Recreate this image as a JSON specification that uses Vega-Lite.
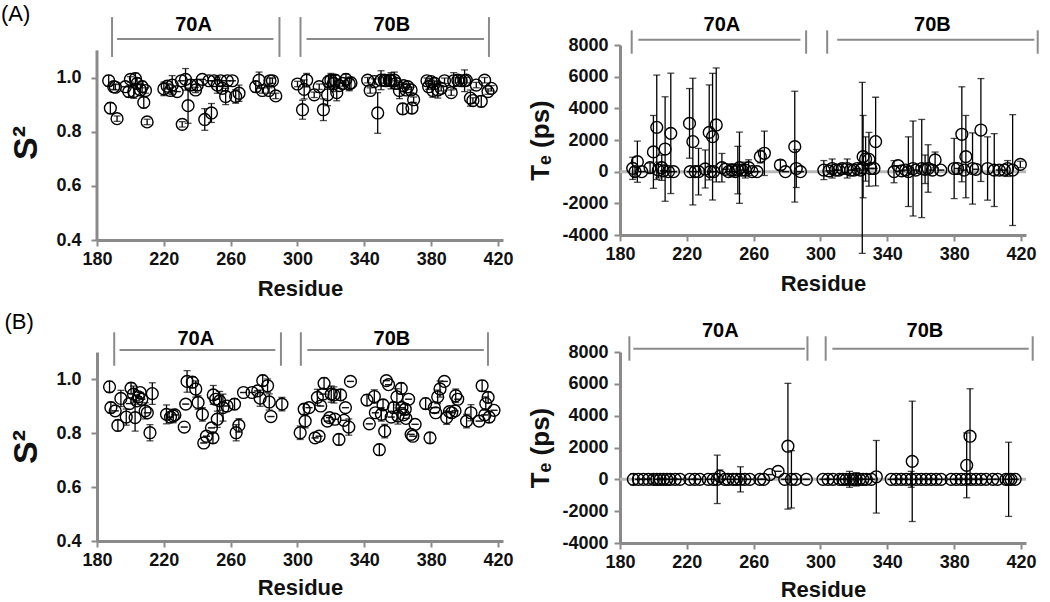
{
  "$schema": "https://vega.github.io/schema/vega-lite/v6.json",
  "padding": {"left": 0, "top": 3, "right": 0, "bottom": 0},
  "background": "white",
  "datasets": {
    "a1": [
      {"r":187,"v":0.988,"e":0.02},{"r":190,"v":0.966,"e":0.01},{"r":191,"v":0.964,"e":0.01},{"r":188,"v":0.887,"e":0.02},{"r":192,"v":0.848,"e":0.01},
      {"r":197,"v":0.966,"e":0},{"r":199,"v":0.948,"e":0.02},{"r":200,"v":0.993,"e":0.01},{"r":202,"v":0.948,"e":0.025},{"r":203,"v":0.996,"e":0.02},
      {"r":204,"v":0.978,"e":0.02},{"r":206,"v":0.954,"e":0.02},{"r":207,"v":0.966,"e":0.02},{"r":208,"v":0.908,"e":0.02},{"r":209,"v":0.952,"e":0.01},
      {"r":210,"v":0.836,"e":0.01},{"r":220,"v":0.958,"e":0.025},{"r":222,"v":0.968,"e":0.01},{"r":224,"v":0.952,"e":0.01},{"r":225,"v":0.972,"e":0.035},
      {"r":228,"v":0.948,"e":0},{"r":231,"v":0.827,"e":0.01},{"r":230.5,"v":0.988,"e":0},{"r":233,"v":0.993,"e":0.04},{"r":234.5,"v":0.896,"e":0.065},
      {"r":236,"v":0.972,"e":0.02},{"r":239,"v":0.954,"e":0.01},{"r":240,"v":0.972,"e":0.02},{"r":243,"v":0.993,"e":0},{"r":244.5,"v":0.845,"e":0.04},
      {"r":248.5,"v":0.869,"e":0.035},{"r":247,"v":0.988,"e":0},{"r":250,"v":0.988,"e":0},{"r":252,"v":0.972,"e":0.03},{"r":254,"v":0.988,"e":0},
      {"r":255,"v":0.96,"e":0.01},{"r":257,"v":0.93,"e":0.03},{"r":258,"v":0.988,"e":0},{"r":261,"v":0.988,"e":0},{"r":263,"v":0.93,"e":0.025},
      {"r":265,"v":0.942,"e":0.03},{"r":275,"v":0.966,"e":0.02},{"r":277,"v":0.99,"e":0.03},{"r":279,"v":0.952,"e":0.01},{"r":283,"v":0.952,"e":0.01},
      {"r":283.5,"v":0.988,"e":0.01},{"r":285,"v":0.988,"e":0.01},{"r":287,"v":0.932,"e":0.01},
      {"r":300,"v":0.976,"e":0.01},{"r":303,"v":0.881,"e":0.035},{"r":304,"v":0.956,"e":0.035},{"r":305.5,"v":0.99,"e":0.025},{"r":310,"v":0.936,"e":0.01},
      {"r":313,"v":0.966,"e":0.01},{"r":315.5,"v":0.881,"e":0.04},{"r":318,"v":0.936,"e":0.04},{"r":318.5,"v":0.985,"e":0.02},{"r":320,"v":0.99,"e":0.025},
      {"r":321.5,"v":0.978,"e":0.03},{"r":322.5,"v":0.99,"e":0.02},{"r":323.5,"v":0.944,"e":0.03},{"r":325,"v":0.97,"e":0.01},{"r":327,"v":0.978,"e":0.01},
      {"r":329,"v":0.993,"e":0.02},{"r":331,"v":0.976,"e":0.025},{"r":332,"v":0.98,"e":0.02},{"r":342,"v":0.99,"e":0.01},{"r":343.5,"v":0.952,"e":0.01},
      {"r":346,"v":0.985,"e":0.01},{"r":348,"v":0.869,"e":0.075},{"r":350,"v":0.99,"e":0.035},{"r":352,"v":0.99,"e":0.01},{"r":353,"v":0.988,"e":0.01},
      {"r":355,"v":0.99,"e":0.02},{"r":356,"v":0.988,"e":0.03},{"r":358,"v":0.99,"e":0.03},{"r":359,"v":0.978,"e":0.01},{"r":361,"v":0.952,"e":0.03},
      {"r":363,"v":0.884,"e":0.02},{"r":363.5,"v":0.97,"e":0.01},{"r":365,"v":0.954,"e":0.01},{"r":366,"v":0.966,"e":0.01},{"r":368,"v":0.954,"e":0.01},
      {"r":368.5,"v":0.887,"e":0.02},{"r":369.5,"v":0.918,"e":0.01},{"r":377.5,"v":0.988,"e":0.01},{"r":378.5,"v":0.966,"e":0.01},{"r":380,"v":0.985,"e":0.01},
      {"r":381,"v":0.952,"e":0.025},{"r":382,"v":0.978,"e":0.01},{"r":384,"v":0.954,"e":0.03},{"r":386,"v":0.96,"e":0.01},{"r":388,"v":0.988,"e":0.01},
      {"r":392,"v":0.944,"e":0.01},{"r":393.5,"v":0.988,"e":0.03},{"r":396,"v":0.99,"e":0.01},{"r":398,"v":0.988,"e":0.01},{"r":400,"v":0.988,"e":0.04},
      {"r":401,"v":0.99,"e":0.01},{"r":403.5,"v":0.924,"e":0.03},{"r":405,"v":0.915,"e":0.01},{"r":407,"v":0.972,"e":0.01},{"r":410,"v":0.912,"e":0.02},
      {"r":412,"v":0.99,"e":0.01},{"r":414,"v":0.948,"e":0.01},{"r":416,"v":0.96,"e":0.01}
    ],
    "a2": [
      {"r":187.6,"v":210,"e":700},{"r":190.4,"v":630,"e":1300},{"r":189,"v":0,"e":300},{"r":193,"v":0,"e":0},{"r":198,"v":250,"e":300},
      {"r":200,"v":1250,"e":2300},{"r":202,"v":2800,"e":3300},{"r":203,"v":100,"e":500},{"r":205,"v":250,"e":800},{"r":206,"v":50,"e":0},
      {"r":207,"v":1430,"e":3300},{"r":209,"v":0,"e":0},{"r":210.4,"v":2420,"e":3800},{"r":212,"v":0,"e":0},
      {"r":221.6,"v":3050,"e":2200},{"r":223.6,"v":1900,"e":4000},{"r":222,"v":0,"e":0},{"r":225,"v":0,"e":0},{"r":227,"v":0,"e":1470},
      {"r":231,"v":170,"e":1200},{"r":233.4,"v":2480,"e":3000},{"r":235.4,"v":2210,"e":4000},{"r":237.6,"v":2950,"e":3600},{"r":234,"v":0,"e":0},
      {"r":236,"v":0,"e":0},{"r":241,"v":250,"e":900},{"r":243,"v":150,"e":0},{"r":245,"v":0,"e":0},{"r":247,"v":100,"e":400},
      {"r":249,"v":0,"e":0},{"r":250.5,"v":100,"e":1500},{"r":251.5,"v":250,"e":2250},{"r":253,"v":100,"e":0},{"r":255,"v":100,"e":500},
      {"r":257,"v":250,"e":500},{"r":259,"v":0,"e":0},{"r":262,"v":0,"e":0},{"r":264,"v":950,"e":400},{"r":266.4,"v":1160,"e":1400},
      {"r":276,"v":420,"e":300},{"r":279,"v":0,"e":0},{"r":284.6,"v":1580,"e":3500},{"r":285.5,"v":200,"e":1200},{"r":288,"v":0,"e":0},
      {"r":302,"v":100,"e":600},{"r":305,"v":50,"e":0},{"r":307,"v":200,"e":600},{"r":309,"v":100,"e":0},{"r":311,"v":100,"e":0},
      {"r":313,"v":200,"e":300},{"r":316,"v":200,"e":600},{"r":318,"v":100,"e":0},{"r":320,"v":100,"e":0},{"r":322,"v":200,"e":0},
      {"r":324,"v":100,"e":0},{"r":325,"v":240,"e":5400},{"r":325.5,"v":950,"e":2600},{"r":327,"v":800,"e":1400},{"r":329,"v":780,"e":1700},
      {"r":330,"v":200,"e":0},{"r":332,"v":200,"e":0},{"r":333,"v":1900,"e":2800},{"r":344,"v":0,"e":700},{"r":346.4,"v":380,"e":0},
      {"r":348.6,"v":50,"e":0},{"r":351,"v":100,"e":0},{"r":352.6,"v":0,"e":2200},{"r":355.4,"v":200,"e":3000},{"r":357,"v":100,"e":0},
      {"r":360.6,"v":200,"e":3100},{"r":362.6,"v":150,"e":900},{"r":364.4,"v":200,"e":1500},{"r":367,"v":100,"e":0},{"r":368.6,"v":740,"e":500},
      {"r":372,"v":100,"e":0},{"r":380,"v":200,"e":1900},{"r":382,"v":200,"e":0},{"r":384.6,"v":2360,"e":3000},{"r":386,"v":100,"e":0},
      {"r":387,"v":950,"e":2600},{"r":391,"v":200,"e":2250},{"r":393,"v":150,"e":0},{"r":396,"v":2630,"e":3250},{"r":400,"v":200,"e":2000},
      {"r":404,"v":100,"e":2300},{"r":407,"v":100,"e":0},{"r":410,"v":100,"e":0},{"r":412,"v":200,"e":500},{"r":415,"v":100,"e":3500},
      {"r":419.6,"v":460,"e":200}
    ],
    "b1": [
      {"r":187.5,"v":0.971,"e":0.02},{"r":188.3,"v":0.894,"e":0.02},{"r":190.9,"v":0.882,"e":0},{"r":192.5,"v":0.828,"e":0.02},{"r":194.3,"v":0.928,"e":0.03},
      {"r":197.5,"v":0.859,"e":0.03},{"r":199.4,"v":0.909,"e":0},{"r":200.4,"v":0.966,"e":0.02},{"r":201.8,"v":0.944,"e":0.03},{"r":202.8,"v":0.857,"e":0.05},
      {"r":203.8,"v":0.919,"e":0},{"r":204.8,"v":0.934,"e":0},{"r":205.8,"v":0.95,"e":0},{"r":206.8,"v":0.925,"e":0},{"r":208.8,"v":0.882,"e":0.03},
      {"r":210.1,"v":0.875,"e":0},{"r":211.7,"v":0.801,"e":0.03},{"r":213.1,"v":0.946,"e":0.04},{"r":221.6,"v":0.869,"e":0.035},{"r":224,"v":0.859,"e":0},
      {"r":225.6,"v":0.863,"e":0.025},{"r":226.6,"v":0.867,"e":0},{"r":232.2,"v":0.822,"e":0},{"r":233.1,"v":0.907,"e":0},{"r":233.9,"v":0.991,"e":0.04},
      {"r":237.1,"v":0.988,"e":0.02},{"r":239.1,"v":0.963,"e":0.03},{"r":240.5,"v":0.913,"e":0.025},{"r":243.1,"v":0.869,"e":0.025},{"r":243.9,"v":0.763,"e":0},
      {"r":245.5,"v":0.788,"e":0},{"r":248.5,"v":0.819,"e":0},{"r":249.4,"v":0.782,"e":0.02},{"r":249.6,"v":0.941,"e":0.035},{"r":251,"v":0.925,"e":0},
      {"r":252,"v":0.851,"e":0.03},{"r":253.4,"v":0.919,"e":0.035},{"r":255.4,"v":0.894,"e":0.05},{"r":257.8,"v":0.9,"e":0},{"r":262.3,"v":0.907,"e":0.02},
      {"r":263.3,"v":0.801,"e":0.03},{"r":264.9,"v":0.828,"e":0.025},{"r":267.7,"v":0.95,"e":0},{"r":272.8,"v":0.95,"e":0},{"r":276.2,"v":0.956,"e":0},
      {"r":277.6,"v":0.929,"e":0.03},{"r":279.2,"v":0.994,"e":0.02},{"r":282.1,"v":0.975,"e":0.025},{"r":283.1,"v":0.915,"e":0.03},{"r":284.1,"v":0.861,"e":0},
      {"r":290.7,"v":0.907,"e":0.025},{"r":301.6,"v":0.801,"e":0.025},{"r":304,"v":0.888,"e":0.02},{"r":304.6,"v":0.844,"e":0.025},{"r":306.9,"v":0.894,"e":0},
      {"r":310.5,"v":0.782,"e":0},{"r":311.9,"v":0.932,"e":0.03},{"r":312.9,"v":0.788,"e":0},{"r":313.9,"v":0.9,"e":0},{"r":315.3,"v":0.944,"e":0},
      {"r":315.9,"v":0.984,"e":0.02},{"r":317.9,"v":0.844,"e":0},{"r":319.2,"v":0.857,"e":0},{"r":320.2,"v":0.944,"e":0.03},{"r":321.8,"v":0.941,"e":0.03},
      {"r":322.4,"v":0.851,"e":0},{"r":324.8,"v":0.776,"e":0.02},{"r":325.8,"v":0.941,"e":0.02},{"r":327.8,"v":0.847,"e":0},{"r":328.7,"v":0.894,"e":0},
      {"r":330.7,"v":0.822,"e":0.03},{"r":331.7,"v":0.991,"e":0},{"r":341.6,"v":0.922,"e":0.02},{"r":343,"v":0.834,"e":0},{"r":346,"v":0.935,"e":0.025},
      {"r":346.6,"v":0.875,"e":0},{"r":349,"v":0.738,"e":0.02},{"r":350.2,"v":0.869,"e":0.025},{"r":351.2,"v":0.904,"e":0.02},{"r":352.2,"v":0.807,"e":0.025},
      {"r":353.2,"v":0.994,"e":0},{"r":354.5,"v":0.979,"e":0},{"r":356.1,"v":0.859,"e":0},{"r":357.5,"v":0.894,"e":0.02},{"r":359.5,"v":0.934,"e":0.03},
      {"r":360.1,"v":0.863,"e":0.03},{"r":362.1,"v":0.965,"e":0.02},{"r":362.5,"v":0.894,"e":0},{"r":363.5,"v":0.867,"e":0},{"r":364.5,"v":0.888,"e":0.02},
      {"r":364.9,"v":0.854,"e":0},{"r":366.5,"v":0.925,"e":0},{"r":368,"v":0.795,"e":0},{"r":369,"v":0.788,"e":0},{"r":370.4,"v":0.832,"e":0},
      {"r":376.7,"v":0.909,"e":0.02},{"r":379.3,"v":0.782,"e":0.02},{"r":381.9,"v":0.894,"e":0},{"r":382.7,"v":0.875,"e":0},{"r":383.9,"v":0.934,"e":0.025},
      {"r":385.3,"v":0.963,"e":0.03},{"r":387.9,"v":0.991,"e":0},{"r":389.3,"v":0.857,"e":0.025},{"r":390.9,"v":0.879,"e":0},{"r":392.3,"v":0.875,"e":0},
      {"r":394.3,"v":0.882,"e":0},{"r":394.7,"v":0.938,"e":0.025},{"r":395.9,"v":0.925,"e":0},{"r":401.2,"v":0.844,"e":0.025},{"r":403.8,"v":0.875,"e":0.03},
      {"r":408.7,"v":0.844,"e":0},{"r":410.5,"v":0.975,"e":0.02},{"r":412.1,"v":0.867,"e":0},{"r":412.7,"v":0.909,"e":0.025},{"r":414.1,"v":0.932,"e":0.02},
      {"r":414.7,"v":0.859,"e":0.02},{"r":417.6,"v":0.884,"e":0}
    ],
    "b2": [
      {"r":188,"v":0,"e":350},{"r":191,"v":0,"e":0},{"r":194,"v":0,"e":0},{"r":197,"v":0,"e":0},{"r":200,"v":0,"e":250},
      {"r":202,"v":0,"e":0},{"r":204,"v":0,"e":0},{"r":206,"v":0,"e":0},{"r":208,"v":0,"e":0},{"r":210,"v":0,"e":0},
      {"r":213,"v":0,"e":0},{"r":215.9,"v":0,"e":0},{"r":221.8,"v":0,"e":0},{"r":224.8,"v":0,"e":0},{"r":227.8,"v":0,"e":0},
      {"r":232.8,"v":0,"e":0},{"r":235.8,"v":0,"e":0},{"r":238.2,"v":0,"e":1520},{"r":239.8,"v":190,"e":400},{"r":242.7,"v":0,"e":0},
      {"r":244.7,"v":0,"e":0},{"r":247.7,"v":0,"e":0},{"r":249.7,"v":0,"e":0},{"r":252.1,"v":0,"e":790},{"r":254.7,"v":0,"e":0},
      {"r":257.7,"v":0,"e":0},{"r":263.7,"v":0,"e":0},{"r":266,"v":0,"e":0},{"r":269.6,"v":300,"e":0},{"r":274.6,"v":500,"e":0},
      {"r":278.6,"v":0,"e":0},{"r":280.5,"v":2080,"e":3950},{"r":282.6,"v":0,"e":1800},{"r":285.2,"v":0,"e":0},{"r":291.5,"v":0,"e":0},
      {"r":301.5,"v":0,"e":0},{"r":304.5,"v":0,"e":0},{"r":307.5,"v":0,"e":0},{"r":311.4,"v":0,"e":0},{"r":313.4,"v":0,"e":0},
      {"r":315.4,"v":0,"e":0},{"r":317.4,"v":0,"e":500},{"r":319.4,"v":0,"e":0},{"r":321.4,"v":0,"e":420},{"r":323.4,"v":0,"e":0},
      {"r":325.4,"v":0,"e":0},{"r":327.4,"v":0,"e":0},{"r":330.4,"v":0,"e":0},{"r":333.4,"v":160,"e":2280},{"r":342.3,"v":0,"e":0},
      {"r":345.3,"v":0,"e":0},{"r":348.3,"v":0,"e":0},{"r":351.3,"v":0,"e":0},{"r":354.3,"v":0,"e":500},{"r":354.9,"v":1130,"e":3780},
      {"r":357.3,"v":0,"e":0},{"r":360.3,"v":0,"e":0},{"r":363.2,"v":0,"e":0},{"r":366.2,"v":0,"e":0},{"r":369.2,"v":0,"e":0},
      {"r":372.2,"v":0,"e":0},{"r":378.2,"v":0,"e":0},{"r":381.2,"v":0,"e":0},{"r":384.2,"v":0,"e":0},{"r":387.5,"v":880,"e":2040},
      {"r":389.5,"v":2710,"e":2980},{"r":387.1,"v":0,"e":0},{"r":390.1,"v":0,"e":0},{"r":393.1,"v":0,"e":0},{"r":396.1,"v":0,"e":0},
      {"r":399.1,"v":0,"e":0},{"r":403.1,"v":0,"e":0},{"r":406,"v":0,"e":0},{"r":411,"v":0,"e":0},{"r":412.6,"v":0,"e":2330},
      {"r":414,"v":0,"e":0},{"r":416.5,"v":0,"e":0}
    ],
    "br": [
      {"p":"a1","r":189,"r2":189,"v":1.076,"v2":1.223},{"p":"a1","r":289.2,"r2":289.2,"v":1.076,"v2":1.223},
      {"p":"a1","r":301.8,"r2":301.8,"v":1.076,"v2":1.223},{"p":"a1","r":414.6,"r2":414.6,"v":1.076,"v2":1.223},
      {"p":"a1","r":192,"r2":285.6,"v":1.142,"v2":1.142},{"p":"a1","r":305.4,"r2":411.6,"v":1.142,"v2":1.142},
      {"p":"a2","r":187,"r2":187,"v":7450,"v2":8928},{"p":"a2","r":291.4,"r2":291.4,"v":7450,"v2":8928},
      {"p":"a2","r":304,"r2":304,"v":7450,"v2":8928},{"p":"a2","r":430,"r2":430,"v":7450,"v2":8928},
      {"p":"a2","r":191,"r2":288,"v":8337,"v2":8337},{"p":"a2","r":310,"r2":428,"v":8337,"v2":8337},
      {"p":"b1","r":190.3,"r2":190.3,"v":1.049,"v2":1.173},{"p":"b1","r":290.1,"r2":290.1,"v":1.049,"v2":1.173},
      {"p":"b1","r":302,"r2":302,"v":1.049,"v2":1.173},{"p":"b1","r":414,"r2":414,"v":1.049,"v2":1.173},
      {"p":"b1","r":193.5,"r2":286.7,"v":1.107,"v2":1.107},{"p":"b1","r":305.9,"r2":411.5,"v":1.107,"v2":1.107},
      {"p":"b2","r":185.6,"r2":185.6,"v":7455,"v2":8986},{"p":"b2","r":292.2,"r2":292.2,"v":7455,"v2":8986},
      {"p":"b2","r":303.1,"r2":303.1,"v":7455,"v2":8986},{"p":"b2","r":427,"r2":427,"v":7455,"v2":8986},
      {"p":"b2","r":188,"r2":290.6,"v":8209,"v2":8209},{"p":"b2","r":307.1,"r2":424.6,"v":8209,"v2":8209},
      {"p":"ax","r":180,"r2":180,"v":0.4,"v2":1.1},
      {"p":"zero","r":180,"r2":423,"v":0,"v2":0}
    ],
    "tx": [
      {"p":"a1","r":237.8,"v":1.194,"t":"70A"},{"p":"a1","r":356.4,"v":1.194,"t":"70B"},
      {"p":"a2","r":241,"v":9244,"t":"70A"},{"p":"a2","r":367,"v":9244,"t":"70B"},
      {"p":"b1","r":239.1,"v":1.148,"t":"70A"},{"p":"b1","r":356.5,"v":1.148,"t":"70B"},
      {"p":"b2","r":240,"v":9300,"t":"70A"},{"p":"b2","r":362.5,"v":9300,"t":"70B"}
    ],
    "pl": [
      {"p":"a1","r":122.5,"v":1.234,"t":"(A)"},{"p":"b1","r":124.6,"v":1.211,"t":"(B)"}
    ]
  },
  "vconcat": [
    {
      "hconcat": [
        {
          "width": 406, "height": 195,
          "encoding": {
            "x": {"field": "r", "type": "quantitative", "title": "Residue", "scale": {"domain": [180, 423], "nice": false, "zero": false},
                  "axis": {"values": [180,220,260,300,340,380,420], "titleFontSize": 22, "labelPadding": 4, "titlePadding": 10}},
            "y": {"field": "v", "type": "quantitative", "title": "S²", "scale": {"domain": [0.4, 1.12], "nice": false, "zero": false},
                  "axis": {"values": [0.4,0.6,0.8,1.0], "format": ".1f", "titleFontSize": 34, "labelPadding": 10, "titlePadding": 12, "domain": false}}
          },
          "layer": [
            {"data": {"name": "a1"},
             "mark": {"type": "errorbar", "ticks": true, "size": 7, "thickness": 1.3, "color": "black"},
             "encoding": {"yError": {"field": "e"}}},
            {"data": {"name": "br"}, "transform": [{"filter": "datum.p == 'ax'"}],
             "mark": {"type": "rule", "color": "#8a8a8a", "strokeWidth": 3},
             "encoding": {"y2": {"field": "v2"}}},
            {"data": {"name": "a1"},
             "mark": {"type": "point", "shape": "circle", "filled": false, "size": 140, "color": "black", "strokeWidth": 1.4, "opacity": 1}},
            {"data": {"name": "br"}, "transform": [{"filter": "datum.p == 'a1'"}],
             "mark": {"type": "rule", "color": "#8a8a8a", "strokeWidth": 2},
             "encoding": {"x2": {"field": "r2"}, "y2": {"field": "v2"}}},
            {"data": {"name": "tx"}, "transform": [{"filter": "datum.p == 'a1'"}],
             "mark": {"type": "text", "font": "Liberation Sans", "fontWeight": "bold", "fontSize": 20, "align": "center", "baseline": "middle", "color": "black"},
             "encoding": {"text": {"field": "t"}}},
            {"data": {"name": "pl"}, "transform": [{"filter": "datum.p == 'a1'"}],
             "mark": {"type": "text", "font": "Liberation Sans", "fontSize": 22, "align": "left", "baseline": "middle", "color": "black"},
             "encoding": {"text": {"field": "t"}}}
          ]
        },
        {
          "width": 406, "height": 190,
          "encoding": {
            "x": {"field": "r", "type": "quantitative", "title": "Residue", "scale": {"domain": [180, 423], "nice": false, "zero": false},
                  "axis": {"values": [180,220,260,300,340,380,420], "titleFontSize": 22, "labelPadding": 4, "titlePadding": 10}},
            "y": {"field": "v", "type": "quantitative", "title": "Tₑ (ps)", "scale": {"domain": [-4000, 8000], "nice": false, "zero": false},
                  "axis": {"values": [-4000,-2000,0,2000,4000,6000,8000], "labelExpr": "'' + datum.value", "labelOverlap": false, "titleFontSize": 26, "labelPadding": 6, "titlePadding": 8}}
          },
          "layer": [
            {"data": {"name": "br"}, "transform": [{"filter": "datum.p == 'zero'"}],
             "mark": {"type": "rule", "color": "#b8b8b8", "strokeWidth": 3},
             "encoding": {"x2": {"field": "r2"}, "y2": {"field": "v2"}}},
            {"data": {"name": "a2"},
             "mark": {"type": "errorbar", "ticks": true, "size": 7, "thickness": 1.3, "color": "black"},
             "encoding": {"yError": {"field": "e"}}},
            {"data": {"name": "a2"},
             "mark": {"type": "point", "shape": "circle", "filled": false, "size": 140, "color": "black", "strokeWidth": 1.4, "opacity": 1}},
            {"data": {"name": "br"}, "transform": [{"filter": "datum.p == 'a2'"}],
             "mark": {"type": "rule", "color": "#8a8a8a", "strokeWidth": 2},
             "encoding": {"x2": {"field": "r2"}, "y2": {"field": "v2"}}},
            {"data": {"name": "tx"}, "transform": [{"filter": "datum.p == 'a2'"}],
             "mark": {"type": "text", "font": "Liberation Sans", "fontWeight": "bold", "fontSize": 20, "align": "center", "baseline": "middle", "color": "black"},
             "encoding": {"text": {"field": "t"}}}
          ]
        }
      ],
      "spacing": 13
    },
    {
      "hconcat": [
        {
          "width": 406, "height": 189,
          "encoding": {
            "x": {"field": "r", "type": "quantitative", "title": "Residue", "scale": {"domain": [180, 423], "nice": false, "zero": false},
                  "axis": {"values": [180,220,260,300,340,380,420], "titleFontSize": 22, "labelPadding": 4, "titlePadding": 8}},
            "y": {"field": "v", "type": "quantitative", "title": "S²", "scale": {"domain": [0.4, 1.1], "nice": false, "zero": false},
                  "axis": {"values": [0.4,0.6,0.8,1.0], "format": ".1f", "titleFontSize": 34, "labelPadding": 10, "titlePadding": 12}}
          },
          "layer": [
            {"data": {"name": "b1"},
             "mark": {"type": "errorbar", "ticks": true, "size": 7, "thickness": 1.3, "color": "black"},
             "encoding": {"yError": {"field": "e"}}},
            {"data": {"name": "b1"},
             "mark": {"type": "point", "shape": "circle", "filled": false, "size": 140, "color": "black", "strokeWidth": 1.4, "opacity": 1}},
            {"data": {"name": "br"}, "transform": [{"filter": "datum.p == 'b1'"}],
             "mark": {"type": "rule", "color": "#8a8a8a", "strokeWidth": 2},
             "encoding": {"x2": {"field": "r2"}, "y2": {"field": "v2"}}},
            {"data": {"name": "tx"}, "transform": [{"filter": "datum.p == 'b1'"}],
             "mark": {"type": "text", "font": "Liberation Sans", "fontWeight": "bold", "fontSize": 20, "align": "center", "baseline": "middle", "color": "black"},
             "encoding": {"text": {"field": "t"}}},
            {"data": {"name": "pl"}, "transform": [{"filter": "datum.p == 'b1'"}],
             "mark": {"type": "text", "font": "Liberation Sans", "fontSize": 22, "align": "left", "baseline": "middle", "color": "black"},
             "encoding": {"text": {"field": "t"}}}
          ]
        },
        {
          "width": 406, "height": 191,
          "encoding": {
            "x": {"field": "r", "type": "quantitative", "title": "Residue", "scale": {"domain": [180, 423], "nice": false, "zero": false},
                  "axis": {"values": [180,220,260,300,340,380,420], "titleFontSize": 22, "labelPadding": 4, "titlePadding": 8}},
            "y": {"field": "v", "type": "quantitative", "title": "Tₑ (ps)", "scale": {"domain": [-4000, 8000], "nice": false, "zero": false},
                  "axis": {"values": [-4000,-2000,0,2000,4000,6000,8000], "labelExpr": "'' + datum.value", "labelOverlap": false, "titleFontSize": 26, "labelPadding": 6, "titlePadding": 8}}
          },
          "layer": [
            {"data": {"name": "br"}, "transform": [{"filter": "datum.p == 'zero'"}],
             "mark": {"type": "rule", "color": "#b8b8b8", "strokeWidth": 3},
             "encoding": {"x2": {"field": "r2"}, "y2": {"field": "v2"}}},
            {"data": {"name": "b2"},
             "mark": {"type": "errorbar", "ticks": true, "size": 7, "thickness": 1.3, "color": "black"},
             "encoding": {"yError": {"field": "e"}}},
            {"data": {"name": "b2"},
             "mark": {"type": "point", "shape": "circle", "filled": false, "size": 140, "color": "black", "strokeWidth": 1.4, "opacity": 1}},
            {"data": {"name": "br"}, "transform": [{"filter": "datum.p == 'b2'"}],
             "mark": {"type": "rule", "color": "#8a8a8a", "strokeWidth": 2},
             "encoding": {"x2": {"field": "r2"}, "y2": {"field": "v2"}}},
            {"data": {"name": "tx"}, "transform": [{"filter": "datum.p == 'b2'"}],
             "mark": {"type": "text", "font": "Liberation Sans", "fontWeight": "bold", "fontSize": 20, "align": "center", "baseline": "middle", "color": "black"},
             "encoding": {"text": {"field": "t"}}}
          ]
        }
      ],
      "spacing": 13
    }
  ],
  "spacing": 12,
  "config": {
    "view": {"stroke": null},
    "font": "Liberation Sans",
    "axis": {
      "domainColor": "#8a8a8a", "domainWidth": 3, "tickColor": "#8a8a8a", "tickWidth": 2, "tickSize": 6, "grid": false,
      "labelFlush": false, "labelOverlap": false,
      "labelFont": "Liberation Sans", "labelFontWeight": "bold", "labelFontSize": 18, "labelColor": "#111111",
      "titleFont": "Liberation Sans", "titleFontWeight": "bold", "titleColor": "#111111"
    }
  }
}
